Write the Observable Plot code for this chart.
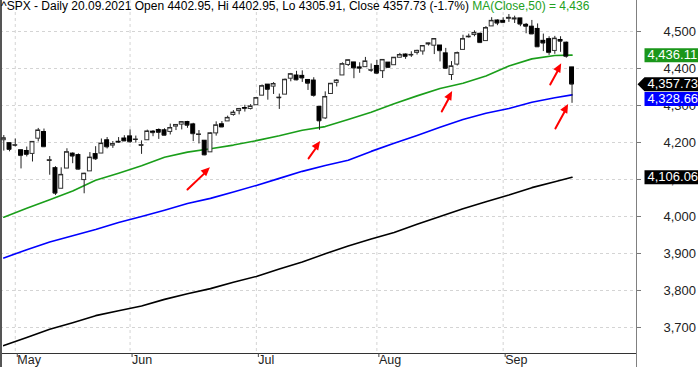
<!DOCTYPE html>
<html><head><meta charset="utf-8">
<script src="https://cdn.jsdelivr.net/npm/d3@7"></script>
<script src="https://cdn.jsdelivr.net/npm/@observablehq/plot@0.6"></script>
<style>
html,body{margin:0;padding:0;background:#fff;}
#wrap{position:relative;width:698px;height:367px;overflow:hidden;font-family:"Liberation Sans",Arial,sans-serif;}
#hdr{position:absolute;left:1px;top:0;font-size:12px;line-height:13px;white-space:nowrap;color:#000;}
#hdr .ma{color:#22a022;}
</style></head><body>
<div id="wrap"><div id="chart"></div><div id="hdr"></div></div>
<script>
const dayLabels = ["Apr 29","Apr 30","May 3","May 4","May 5","May 6","May 7","May 10","May 11","May 12","May 13","May 14","May 17","May 18","May 19","May 20","May 21","May 24","May 25","May 26","May 27","May 28","Jun 1","Jun 2","Jun 3","Jun 4","Jun 7","Jun 8","Jun 9","Jun 10","Jun 11","Jun 14","Jun 15","Jun 16","Jun 17","Jun 18","Jun 21","Jun 22","Jun 23","Jun 24","Jun 25","Jun 28","Jun 29","Jun 30","Jul 1","Jul 2","Jul 6","Jul 7","Jul 8","Jul 9","Jul 12","Jul 13","Jul 14","Jul 15","Jul 16","Jul 19","Jul 20","Jul 21","Jul 22","Jul 23","Jul 26","Jul 27","Jul 28","Jul 29","Jul 30","Aug 2","Aug 3","Aug 4","Aug 5","Aug 6","Aug 9","Aug 10","Aug 11","Aug 12","Aug 13","Aug 16","Aug 17","Aug 18","Aug 19","Aug 20","Aug 23","Aug 24","Aug 25","Aug 26","Aug 27","Aug 30","Aug 31","Sep 1","Sep 2","Sep 3","Sep 7","Sep 8","Sep 9","Sep 10","Sep 13","Sep 14","Sep 15","Sep 16","Sep 17","Sep 20"];
const opens = [4206.14,4198.10,4191.98,4179.04,4177.06,4169.14,4210.34,4228.29,4150.34,4130.55,4074.99,4129.58,4169.92,4165.94,4098.45,4121.97,4168.61,4170.16,4205.94,4191.59,4201.94,4210.77,4216.52,4206.82,4191.43,4206.05,4229.34,4233.81,4232.99,4228.56,4242.90,4248.31,4255.28,4248.87,4220.37,4204.78,4173.40,4224.61,4249.27,4256.97,4274.45,4284.90,4293.21,4290.65,4300.73,4326.60,4356.46,4351.01,4321.07,4329.38,4372.41,4381.07,4380.11,4369.02,4367.43,4296.40,4265.11,4331.13,4361.27,4381.20,4409.58,4416.38,4402.95,4403.59,4395.12,4406.86,4392.74,4415.95,4408.86,4429.07,4437.77,4435.79,4442.18,4446.08,4464.84,4461.65,4462.12,4440.94,4382.44,4410.56,4450.29,4484.40,4490.45,4493.75,4474.10,4513.76,4529.75,4528.80,4534.48,4532.42,4535.38,4518.09,4513.02,4506.92,4474.81,4479.33,4447.49,4477.09,4469.74,4402.95];
const highs = [4218.78,4198.10,4209.39,4179.04,4187.72,4202.70,4238.04,4236.39,4162.04,4134.73,4131.58,4183.13,4171.92,4169.15,4116.93,4172.80,4188.72,4209.52,4213.42,4202.61,4213.38,4218.36,4234.12,4217.37,4204.39,4233.45,4232.34,4236.74,4237.09,4249.74,4248.38,4255.59,4257.16,4251.89,4232.29,4204.78,4226.24,4255.84,4256.60,4271.28,4286.12,4292.14,4300.52,4302.43,4320.66,4355.43,4356.46,4361.88,4330.88,4371.60,4386.68,4392.37,4393.68,4369.02,4375.09,4296.40,4336.84,4359.70,4369.87,4415.18,4422.73,4416.38,4415.47,4429.97,4412.25,4422.18,4423.79,4416.17,4429.76,4440.82,4439.39,4445.21,4449.44,4461.77,4468.37,4480.26,4462.12,4454.32,4418.61,4444.35,4489.88,4492.81,4501.71,4495.90,4513.33,4537.36,4531.39,4537.11,4545.85,4541.45,4535.38,4521.79,4529.90,4520.47,4492.99,4485.68,4486.87,4485.87,4471.52,4402.95];
const lows = [4176.81,4174.85,4188.03,4128.59,4160.94,4147.33,4201.64,4188.13,4111.53,4056.88,4074.99,4129.58,4142.69,4125.99,4061.41,4121.97,4151.72,4170.16,4182.52,4184.11,4197.78,4203.57,4197.59,4198.27,4167.93,4206.05,4215.66,4208.41,4218.74,4220.34,4232.25,4234.07,4238.35,4202.45,4196.05,4164.40,4173.40,4217.27,4241.43,4256.97,4271.16,4274.67,4282.29,4287.96,4300.73,4326.60,4314.37,4329.79,4289.37,4329.38,4364.03,4366.92,4362.36,4340.70,4322.53,4233.13,4262.05,4331.13,4350.06,4381.20,4405.45,4372.51,4387.01,4403.59,4389.65,4384.81,4373.00,4400.23,4408.86,4429.07,4424.74,4430.03,4436.42,4435.96,4460.82,4437.66,4417.83,4397.59,4367.73,4406.80,4450.29,4482.28,4485.66,4468.99,4474.10,4513.76,4515.80,4522.02,4524.66,4521.65,4513.00,4493.95,4492.07,4457.66,4445.70,4435.46,4438.37,4443.80,4427.76,4305.91];
const closes = [4211.47,4181.17,4192.66,4164.66,4167.59,4201.62,4232.60,4188.43,4152.10,4063.04,4112.50,4173.85,4163.29,4127.83,4115.68,4159.12,4155.86,4197.05,4188.13,4195.99,4200.88,4204.11,4202.04,4208.12,4192.85,4229.89,4226.52,4227.26,4219.55,4239.18,4247.44,4255.15,4246.59,4223.70,4221.86,4166.45,4224.79,4246.44,4241.84,4266.49,4280.70,4290.61,4291.80,4297.50,4319.94,4352.34,4343.54,4358.13,4320.82,4369.55,4384.63,4369.21,4374.30,4360.03,4327.16,4258.49,4323.06,4358.69,4367.48,4411.79,4422.30,4401.46,4400.64,4419.15,4395.26,4387.16,4423.15,4402.66,4429.10,4436.52,4432.35,4436.75,4447.70,4460.83,4468.00,4479.71,4448.08,4400.27,4405.80,4441.67,4479.53,4486.23,4496.19,4470.00,4509.37,4528.79,4522.68,4524.09,4536.95,4535.43,4520.03,4514.07,4493.28,4458.58,4468.73,4443.05,4480.70,4473.75,4432.99,4357.73];

// moving averages at these day indices
const maIdx = [0,4,8,12,16,20,24,28,32,36,40,44,48,52,56,60,64,68,72,76,80,84,88,92,96,99];
const ma50  = [3998,4022,4045,4069,4098,4117,4137,4160,4174,4183,4193,4205,4218,4233,4243,4262,4282,4305,4326,4346,4360,4380,4407,4426,4435,4436.11];
const ma100 = [3888,3910,3931,3948,3965,3984,4000,4017,4035,4049,4066,4084,4103,4122,4138,4152,4176,4198,4219,4241,4262,4279,4292,4309,4321,4328.66];
const ma200 = [3651,3673,3695,3713,3732,3745,3758,3776,3791,3805,3822,3838,3858,3877,3899,3920,3939,3957,3979,4000,4021,4040,4058,4078,4094,4106.06];

const monthIdx = [2,22,44,65,87];
const monthLabels = ["May","Jun","Jul","Aug","Sep"];
const yTicks = [3700,3800,3900,4000,4100,4200,4300,4400,4500];

// red annotation arrows (day index / price)
const arrowX1 = [32.0,53.1,76.3,95.2,96.1];
const arrowY1 = [4073,4157,4284,4357,4238];
const arrowX2 = [36.0,55.2,78.2,97.2,98.4];
const arrowY2 = [4132,4203,4338,4413,4303];

const xDomain = [-0.575, 110.23];
const yDomain = [3629.7, 4583.8];

const candles = dayLabels.map((d,i)=>({i, date:d, open:opens[i], high:highs[i], low:lows[i], close:closes[i]}));
const up = d => d.close >= d.open;
const toPts = arr => maIdx.map((i,k)=>({i, v:arr[k]}));
const arrows = arrowX1.map((x,k)=>({x1:x, y1:arrowY1[k], x2:arrowX2[k], y2:arrowY2[k]}));

const n = closes.length;
const last = n-1;
const chg = (closes[last]-closes[last-1])/closes[last-1]*100;
document.getElementById("hdr").innerHTML =
  `^SPX - Daily 20.09.2021 Open ${opens[last].toFixed(2)}, Hi ${highs[last].toFixed(2)}, Lo ${lows[last].toFixed(2)}, Close ${closes[last].toFixed(2)} (${chg.toFixed(1)}%) <span class="ma">MA(Close,50) = ${d3.format(",")(Math.round(ma50[ma50.length-1]))}</span>`;

const boxSymbol = {draw(ctx){ ctx.moveTo(8,-7); ctx.lineTo(70,-7); ctx.lineTo(70,7); ctx.lineTo(8,7); ctx.closePath(); }};
const pointerSymbol = {draw(ctx){ ctx.moveTo(1,0); ctx.lineTo(8,-7); ctx.lineTo(70,-7); ctx.lineTo(70,7); ctx.lineTo(8,7); ctx.closePath(); }};

const lastValues = [ma50[ma50.length-1], closes[last], ma100[ma100.length-1], ma200[ma200.length-1]];
const lastColors = ["#1a961a", "#000000", "#0000ff", "#000000"];
const lastShift = [0, 0, 4, 0];
const fmt2 = d3.format(",.2f");

const labelMarks = [];
lastValues.forEach((v,k)=>{
  labelMarks.push(Plot.dot([v], {y:d=>d, frameAnchor:"right", symbol: k===1 ? pointerSymbol : boxSymbol, fill:lastColors[k], stroke:null, dy:lastShift[k]}));
  labelMarks.push(Plot.text([v], {y:d=>d, frameAnchor:"right", dx:11, dy:lastShift[k], textAnchor:"start", fill:"white", fontSize:13, text:d=>fmt2(d)}));
});

// filled arrow heads drawn through the chart's own scales
const arrowHeads = Plot.dot(arrows, {
  x:"x2", y:"y2", r:0, fill:"red",
  render(index, scales, values, dims, ctx, next) {
    const g = d3.create("svg:g");
    for (const i of index) {
      const a = arrows[i];
      const x1 = scales.x(a.x1), y1 = scales.y(a.y1), x2 = scales.x(a.x2), y2 = scales.y(a.y2);
      const ang = Math.atan2(y2 - y1, x2 - x1);
      const L = 9, W = 4;
      const bx = x2 - L*Math.cos(ang), by = y2 - L*Math.sin(ang);
      const px = -Math.sin(ang)*W, py = Math.cos(ang)*W;
      g.append("path").attr("d", `M${x2},${y2}L${bx+px},${by+py}L${bx-px},${by-py}Z`).attr("fill", "#ff0000");
    }
    return g.node();
  }
});

const grid = {stroke:"#d4d4d4", strokeOpacity:1, strokeDasharray:"3,3"};

const chart = Plot.plot({
  width:698, height:367,
  marginLeft:0, marginRight:62, marginTop:0, marginBottom:14,
  style:{fontFamily:"'Liberation Sans', Arial, sans-serif", background:"white"},
  x:{type:"linear", domain:xDomain, axis:null},
  y:{domain:yDomain, axis:null},
  marks:[
    Plot.gridY(yTicks, grid),
    Plot.gridX(monthIdx, grid),
    Plot.ruleY([yDomain[0]], {stroke:"#333"}),
    Plot.ruleX([xDomain[1]], {stroke:"#808080", insetBottom:-14}),
    Plot.ruleX([xDomain[0]], {stroke:"#555", strokeWidth:3, insetBottom:-14}),
    Plot.line(toPts(ma200), {x:"i", y:"v", stroke:"#000", strokeWidth:1.6}),
    Plot.line(toPts(ma100), {x:"i", y:"v", stroke:"#0000ff", strokeWidth:1.6}),
    Plot.line(toPts(ma50),  {x:"i", y:"v", stroke:"#1a9e1a", strokeWidth:1.6}),
    Plot.ruleX(candles, {x:"i", y1:"low", y2:"high", stroke:"#222", strokeWidth:1}),
    Plot.rect(candles, {filter:up, x1:d=>d.i-0.5, x2:d=>d.i+0.5, y1:"open", y2:"close", fill:"white", stroke:"#333", strokeWidth:1, insetLeft:0.9, insetRight:0.9}),
    Plot.rect(candles, {filter:d=>!up(d), x1:d=>d.i-0.5, x2:d=>d.i+0.5, y1:"open", y2:"close", fill:"black", stroke:"black", strokeWidth:1, insetLeft:0.9, insetRight:0.9}),
    Plot.ruleY(candles, {x1:d=>d.i-0.5, x2:d=>d.i+0.5, y:"close", stroke:"#222", insetLeft:0.9, insetRight:0.9}),
    Plot.arrow(arrows, {x1:"x1", y1:"y1", x2:"x2", y2:"y2", stroke:"#ff0000", strokeWidth:2, headLength:0, insetEnd:5}),
    arrowHeads,
    Plot.axisY(yTicks, {anchor:"right", tickSize:4, tickPadding:23, tickFormat:d3.format(","), fontSize:13, stroke:"#777", fill:"#222"}),
    Plot.axisX(monthIdx, {anchor:"bottom", tickSize:4, tickPadding:-2, tickFormat:d=>monthLabels[monthIdx.indexOf(d)], textAnchor:"start", dx:2, fontSize:12.5, stroke:"#444", fill:"#222"}),
    ...labelMarks
  ]
});
document.getElementById("chart").appendChild(chart);
</script>
</body></html>
